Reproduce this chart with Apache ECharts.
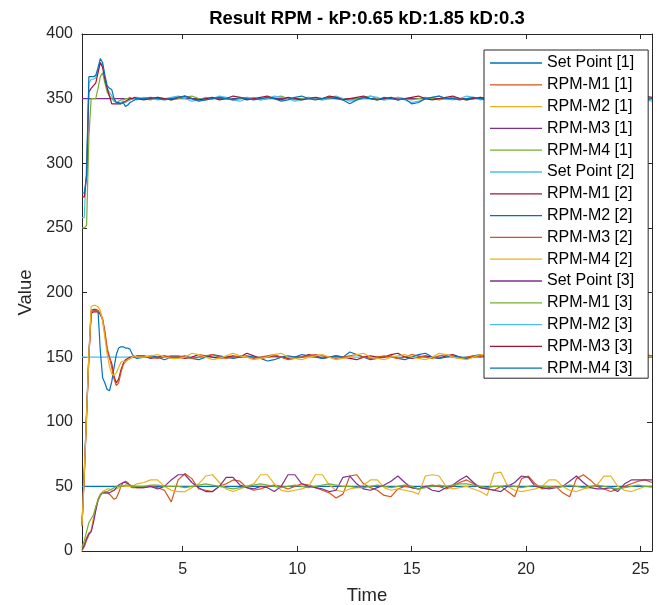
<!DOCTYPE html>
<html><head><meta charset="utf-8">
<script src="https://cdn.jsdelivr.net/npm/echarts@6/dist/echarts.min.js"></script>
<style>html,body{margin:0;padding:0;background:#fff}#c{width:657px;height:605px}</style>
</head><body><div id="c"></div><script>
const time = [
0.6,0.7,0.8,0.9,1.0,1.1,1.2,1.3,1.4,1.5,
1.6,1.7,1.8,1.9,2.0,2.1,2.2,2.3,2.4,2.5,
2.6,2.7,2.8,2.9,3.0,3.3,3.6,3.9,4.2,4.5,
4.8,5.1,5.4,5.7,6.0,6.3,6.6,6.9,7.2,7.5,
7.8,8.1,8.4,8.7,9.0,9.3,9.6,9.9,10.2,10.5,
10.8,11.1,11.4,11.7,12.0,12.3,12.6,12.9,13.2,13.5,
13.8,14.1,14.4,14.7,15.0,15.3,15.6,15.9,16.2,16.5,
16.8,17.1,17.4,17.7,18.0,18.3,18.6,18.9,19.2,19.5,
19.8,20.1,20.4,20.7,21.0,21.3,21.6,21.9,22.2,22.5,
22.8,23.1,23.4,23.7,24.0,24.3,24.6,24.9,25.2,25.5];
const spTime = [0.6, 25.5];
const setPoint1 = [50, 50];
const setPoint2 = [150, 150];
const setPoint3 = [350, 350];

const rpmM1_1 = [
2,5,10,14,15,24,33,40,44,45,
45,45,44,42,40,41,45,50,53,54,
53,50,49,49,49,49,50,49,47,38,
55,60,56,48,47,46,50,52,55,54,
49,47,48,50,51,50,48,50,52,51,
49,47,45,41,44,58,59,52,49,47,
43,42,48,50,49,48,50,51,50,48,
50,53,55,52,49,48,47,50,46,42,
56,58,52,48,49,50,45,42,56,59,
55,50,48,46,48,50,52,54,55,53];
const rpmM2_1 = [
0,3,8,12,16,25,34,40,44,46,
47,48,48,47,47,48,49,50,50,50,
50,50,50,51,52,53,55,55,50,47,
46,46,49,52,58,59,53,48,46,48,
50,52,59,59,52,47,46,47,48,50,
59,59,51,47,46,48,49,51,55,55,
49,47,48,47,46,44,58,59,58,50,
48,49,50,48,46,43,60,61,50,47,
46,47,48,50,55,55,50,47,46,48,
49,51,58,58,50,47,46,48,50,49];
const rpmM3_1 = [
1,4,9,13,15,22,31,39,43,45,
45,45,45,46,47,49,51,52,53,53,
52,51,50,50,49,49,50,48,50,55,
59,59,53,49,46,46,50,57,57,51,
49,48,50,49,46,50,59,59,52,50,
49,48,46,47,57,58,52,48,47,49,
51,54,58,53,49,48,50,47,46,49,
51,55,58,53,49,48,47,46,50,53,
58,57,50,49,48,49,50,54,58,53,
49,48,48,49,46,52,55,55,55,55];
const rpmM4_1 = [
3,8,15,22,25,28,34,39,43,45,
46,46,47,48,49,50,50,50,50,51,
51,51,50,50,50,50,51,51,50,50,
50,49,50,51,52,51,50,49,48,49,
50,51,52,51,50,49,50,51,50,49,
50,51,52,51,50,50,49,49,50,51,
50,49,50,51,50,48,49,50,51,50,
51,52,52,51,50,49,50,50,51,50,
49,50,51,50,50,49,50,51,50,49,
50,51,50,49,48,49,50,51,50,50];

const rpmM1_2 = [
20,60,105,150,184,185,185,185,183,179,
168,155,150,145,135,130,133,140,145,148,
149,150,150,150,151,151,149,150,151,150,
150,149,150,152,151,150,149,150,151,150,
153,151,149,150,151,150,149,150,150,152,
151,149,150,151,150,149,148,150,151,150,
150,152,153,150,149,150,151,150,149,151,
152,150,149,150,151,150,149,148,150,151,
150,149,151,150,152,153,150,149,150,151,
150,149,150,151,150,149,151,152,150,151];
const rpmM2_2 = [
21,62,108,152,186,187,187,186,155,134,
130,125,124,131,142,152,157,158,158,157,
157,156,152,150,149,150,151,150,148,150,
150,151,149,148,150,152,151,150,149,150,
151,150,149,147,148,150,151,150,152,151,
150,149,150,151,150,154,152,150,148,149,
150,151,149,148,150,152,153,150,149,150,
151,150,149,151,152,150,148,150,151,150,
149,150,152,151,150,149,150,151,153,151,
150,149,150,152,151,150,149,150,151,150];
const rpmM3_2 = [
19,58,104,149,185,186,186,186,184,180,
170,157,150,142,133,128,130,138,144,147,
148,149,150,150,150,151,150,149,150,151,
151,150,149,150,151,152,150,149,150,151,
150,149,150,151,152,150,148,149,150,151,
152,151,150,149,150,151,152,150,149,150,
151,150,149,150,152,151,150,149,151,152,
150,149,150,151,150,152,151,150,149,150,
151,152,150,149,150,151,150,148,150,151,
152,150,149,150,151,150,149,150,152,151];
const rpmM4_2 = [
20,60,106,152,189,190,190,189,186,178,
165,152,143,137,136,138,142,146,147,146,
148,149,150,151,150,150,151,152,150,149,
149,150,153,152,150,148,149,151,153,151,
150,148,149,150,152,153,150,149,148,150,
151,152,150,148,149,150,152,153,150,149,
148,150,151,152,150,149,148,150,153,152,
150,149,148,150,152,151,150,149,150,152,
153,150,149,148,150,151,152,150,149,150,
151,152,150,149,148,150,152,153,151,150];

const rpmM1_3 = [
250,250,252,320,350,350,350,358,367,370,
362,355,352,350,348,347,348,349,349,350,
350,351,350,350,351,350,349,351,350,349,
350,351,352,350,349,350,351,350,349,350,
351,350,349,350,351,352,350,349,350,351,
350,349,350,351,350,349,350,351,352,350,
349,350,351,350,349,350,351,350,349,350,
351,350,349,350,351,350,349,350,351,350,
349,350,351,350,349,350,351,350,349,350,
351,350,349,350,351,350,349,350,351,350];
const rpmM2_3 = [
258,258,300,362,365,365,366,372,378,376,
366,358,355,352,349,347,346,347,348,347,
348,349,350,350,349,351,350,349,350,351,
352,350,348,349,351,350,352,351,349,348,
350,351,349,350,352,351,350,348,349,351,
350,349,351,352,350,348,349,350,352,351,
349,350,351,349,347,348,350,351,352,350,
349,350,352,351,349,350,351,349,350,352,
351,349,350,351,350,348,349,351,352,350,
349,350,351,350,349,351,352,350,349,348];
const rpmM3_3 = [
274,274,290,355,358,360,362,370,378,374,
365,358,352,346,346,346,346,346,347,348,
349,350,350,351,350,349,350,351,350,349,
351,352,350,349,350,351,349,350,352,351,
349,350,351,352,350,349,351,350,349,350,
351,350,352,351,349,350,351,352,350,349,
350,351,349,350,351,352,350,349,350,351,
352,350,349,350,351,350,352,351,349,350,
351,352,350,349,350,351,350,349,351,352,
350,349,351,352,350,349,350,351,352,351];
const rpmM4_3 = [
277,277,290,367,367,367,368,374,381,378,
368,360,358,357,350,347,347,346,347,344,
345,347,348,349,350,350,351,350,349,350,
351,352,350,348,349,350,351,350,349,351,
350,349,350,351,350,348,349,351,352,350,
349,350,351,350,349,346,349,351,350,349,
351,350,349,350,346,347,350,351,352,350,
350,349,350,351,350,349,350,352,351,350,
349,350,351,350,349,350,351,350,349,351,
350,351,352,350,349,350,351,350,349,350];

const xTicks = [5, 10, 15, 20, 25];
const seriesNames = ['Set Point [1]','RPM-M1 [1]','RPM-M2 [1]','RPM-M3 [1]','RPM-M4 [1]',
  'Set Point [2]','RPM-M1 [2]','RPM-M2 [2]','RPM-M3 [2]','RPM-M4 [2]',
  'Set Point [3]','RPM-M1 [3]','RPM-M2 [3]','RPM-M3 [3]','RPM-M4 [3]'];
const seriesValues = [setPoint1,rpmM1_1,rpmM2_1,rpmM3_1,rpmM4_1,
  setPoint2,rpmM1_2,rpmM2_2,rpmM3_2,rpmM4_2,
  setPoint3,rpmM1_3,rpmM2_3,rpmM3_3,rpmM4_3];
const colors = ['#0072BD','#D95319','#EDB120','#7E2F8E','#77AC30','#4DBEEE','#A2142F'];

const FONT = "'Liberation Sans', Arial, Helvetica, sans-serif";
const AX = '#262626';

const series = seriesNames.map((name, i) => {
  const vals = seriesValues[i];
  const ts = vals.length === 2 ? spTime : time;
  return {
    name, type: 'line', symbol: 'none', showSymbol: false,
    xAxisIndex: 0, yAxisIndex: 0,
    color: colors[i % 7],
    lineStyle: { width: 1.2, color: colors[i % 7] },
    emphasis: { disabled: true },
    data: vals.map((v, k) => [ts[k], v])
  };
});

const chart = echarts.init(document.getElementById('c'), null, { renderer: 'canvas' });
const xBase = {
  type: 'value', min: 0.6, max: 25.5,
  axisLine: { show: true, onZero: false, lineStyle: { color: AX, width: 1 } },
  splitLine: { show: false },
  axisTick: { show: true, inside: true, length: 5, customValues: xTicks, lineStyle: { color: AX } },
};
const yBase = {
  type: 'value', min: 0, max: 400, interval: 50,
  axisLine: { show: true, onZero: false, lineStyle: { color: AX, width: 1 } },
  splitLine: { show: false },
  axisTick: { show: true, inside: true, length: 5, lineStyle: { color: AX } },
};
chart.setOption({
  animation: false,
  backgroundColor: '#fff',
  textStyle: { fontFamily: FONT },
  title: {
    text: 'Result RPM - kP:0.65 kD:1.85 kD:0.3',
    left: 367, top: 9, textAlign: 'center', padding: 0,
    textStyle: { fontFamily: FONT, fontSize: 18.5, fontWeight: 'bold', color: '#000' }
  },
  grid: { left: 82, right: 5, top: 34, bottom: 54, containLabel: false, outerBoundsMode: 'none' },
  xAxis: [
    Object.assign({}, xBase, {
      position: 'bottom',
      name: 'Time', nameLocation: 'middle', nameGap: 35,
      nameTextStyle: { fontFamily: FONT, fontSize: 18.5, color: AX },
      axisLabel: { show: true, customValues: xTicks, margin: 11, fontFamily: FONT, fontSize: 16, color: AX }
    }),
    Object.assign({}, xBase, { position: 'top', axisLabel: { show: false } })
  ],
  yAxis: [
    Object.assign({}, yBase, {
      position: 'left',
      name: 'Value', nameLocation: 'middle', nameGap: 47, nameRotate: 90,
      nameTextStyle: { fontFamily: FONT, fontSize: 18.5, color: AX },
      axisLabel: { show: true, margin: 9, fontFamily: FONT, fontSize: 16, color: AX }
    }),
    Object.assign({}, yBase, { position: 'right', axisLabel: { show: false } })
  ],
  legend: {
    orient: 'vertical', left: 484, top: 50,
    data: seriesNames,
    icon: 'rect',
    itemWidth: 52, itemHeight: 1.3, itemGap: 5.8,
    padding: [5, 14, 2, 6],
    backgroundColor: '#fff', borderColor: AX, borderWidth: 1,
    selectedMode: false,
    textStyle: { fontFamily: FONT, fontSize: 16, color: '#000', lineHeight: 16 }
  },
  series
});
</script></body></html>
